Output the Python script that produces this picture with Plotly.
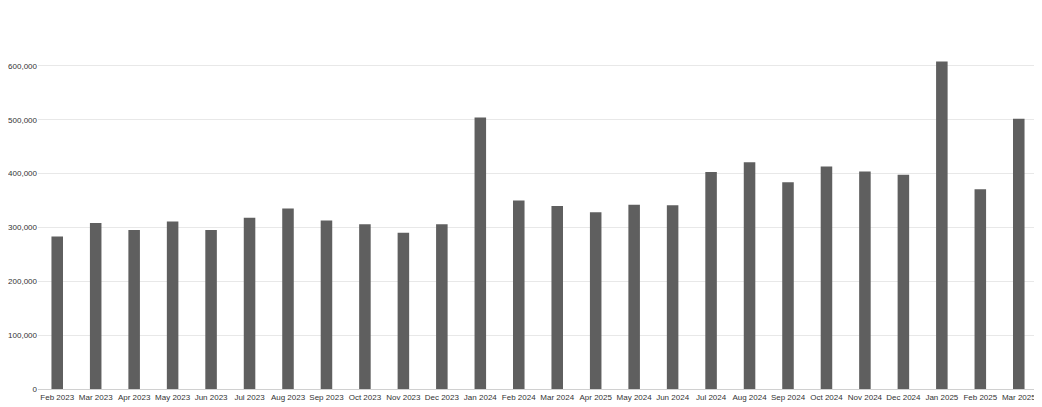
import plotly.graph_objects as go

months = ["Feb 2023","Mar 2023","Apr 2023","May 2023","Jun 2023","Jul 2023","Aug 2023","Sep 2023","Oct 2023","Nov 2023","Dec 2023","Jan 2024","Feb 2024","Mar 2024","Apr 2025","May 2024","Jun 2024","Jul 2024","Aug 2024","Sep 2024","Oct 2024","Nov 2024","Dec 2024","Jan 2025","Feb 2025","Mar 2025"]
values = [283000,308000,295000,311000,295000,318000,335000,313000,306000,290000,306000,504000,350000,340000,328000,342000,341000,403000,421000,384000,413000,404000,398000,608000,371000,502000]

fig = go.Figure(go.Bar(x=months, y=values, marker_color="#5f5f5f", marker_line_width=0))
fig.update_layout(
    width=1030, height=395, plot_bgcolor="white", paper_bgcolor="white",
    margin=dict(l=25, r=0, t=4, b=14), bargap=0.7, showlegend=False,
    font=dict(family="Liberation Sans, Arial", size=8, color="#333"),
)
fig.update_xaxes(type="category", showgrid=False, showline=True, linecolor="#d0d0d0", ticks="", tickangle=0)
fig.update_yaxes(range=[0,700000], dtick=100000, tickformat=",", gridcolor="#e8e8e8", zeroline=False, ticks="")
fig.write_html("out.html", config={"responsive": False})
